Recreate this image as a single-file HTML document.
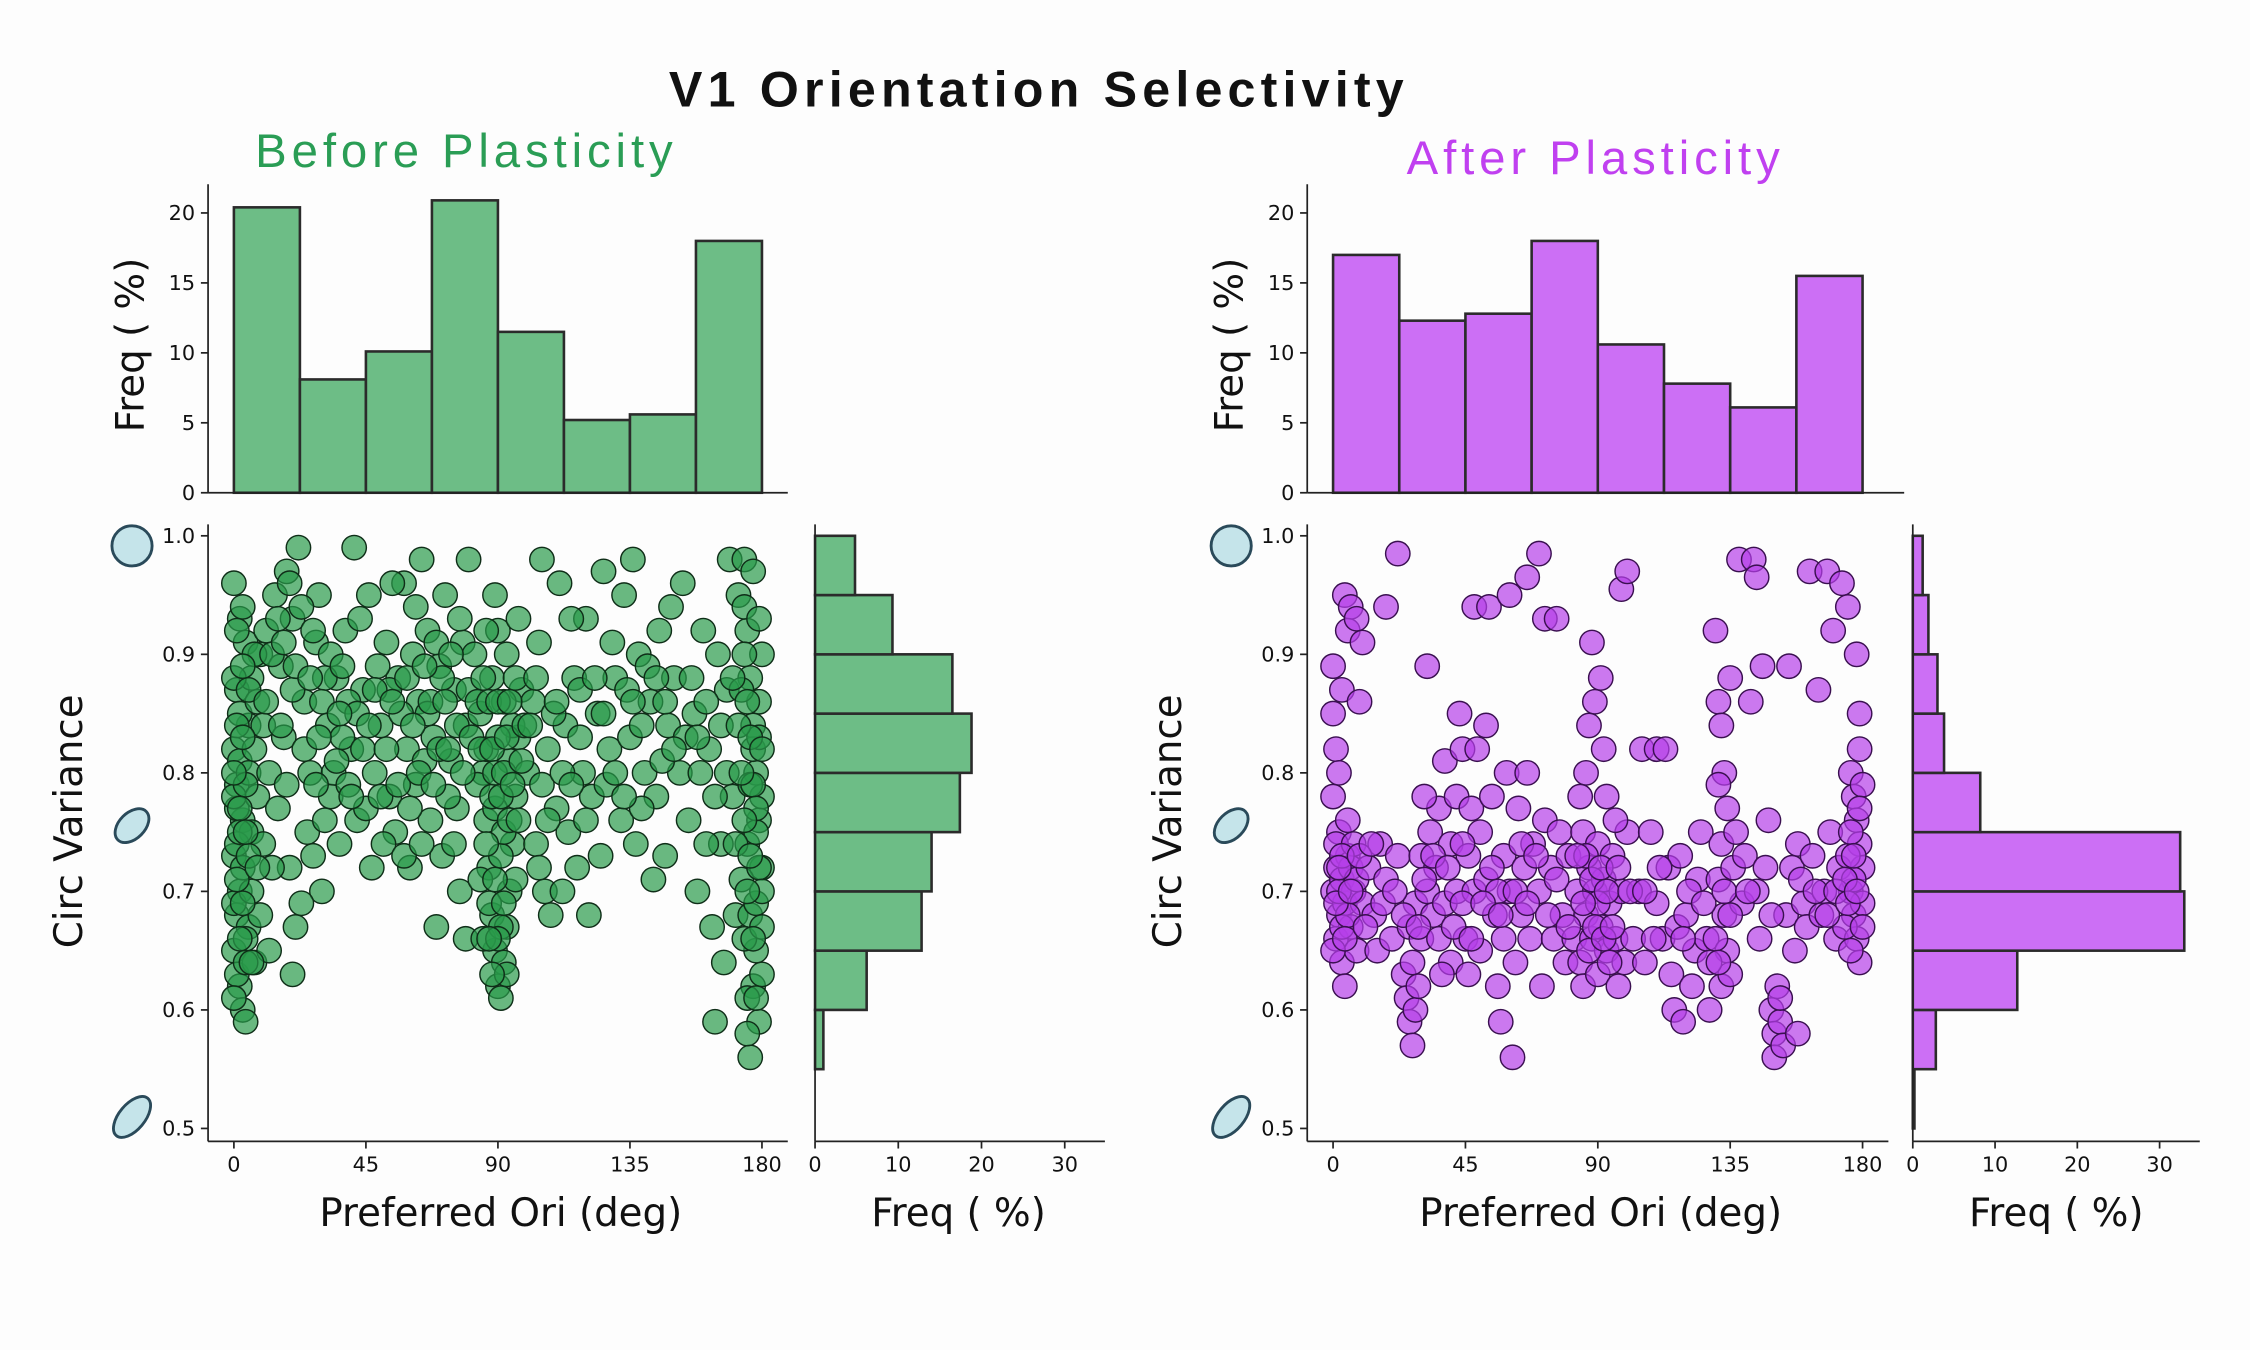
<!DOCTYPE html>
<html><head><meta charset="utf-8"><style>
html,body{margin:0;padding:0;background:#fdfdfd;}
svg{display:block;font-family:"DejaVu Sans","Liberation Sans",sans-serif;}
</style></head><body>
<svg id="fig" width="2250" height="1350" viewBox="0 0 1568 940" xmlns="http://www.w3.org/2000/svg">
<rect width="1568" height="940" fill="#fdfdfd"/>
<text x="724" y="74" text-anchor="middle" font-family="Liberation Sans, sans-serif" font-size="35" font-weight="bold" letter-spacing="3.6" fill="#111">V1 Orientation Selectivity</text>
<text x="325" y="116" text-anchor="middle" font-family="Liberation Sans, sans-serif" font-size="33" letter-spacing="3.4" fill="#2a9d55">Before Plasticity</text>
<text x="1112" y="121" text-anchor="middle" font-family="Liberation Sans, sans-serif" font-size="33" letter-spacing="3.4" fill="#c040f0">After Plasticity</text>
<g id="layer"></g>
</svg>
<script>
const oriBins=[0,22.5,45,67.5,90,112.5,135,157.5,180];
const beforeOriFreq=[20.4,8.1,10.1,20.9,11.5,5.2,5.6,18.0];
const afterOriFreq=[17.0,12.3,12.8,18.0,10.6,7.8,6.1,15.5];
const cvBins=[0.5,0.55,0.6,0.65,0.7,0.75,0.8,0.85,0.9,0.95,1.0];
const beforeCvFreq=[0,1.0,6.2,12.8,14.0,17.4,18.8,16.5,9.3,4.8];
const afterCvFreq=[0.2,2.8,12.7,33.0,32.5,8.2,3.8,3.0,1.9,1.2];
const histTicks=[0,5,10,15,20];
const oriTicks=[0,45,90,135,180];
const cvTicks=[0.5,0.6,0.7,0.8,0.9,1.0];
const margTicks=[0,10,20,30];
const beforePts=[[0,0.96],[1,0.87],[2,0.93],[0,0.82],[1,0.79],[3,0.76],[0,0.73],[2,0.70],[1,0.68],[0,0.65],[2,0.62],[3,0.60],[4,0.59],[1,0.77],[5,0.84],[4,0.91],[6,0.88],[2,0.85],[0,0.78],[3,0.72],[5,0.67],[1,0.63],[4,0.66],[6,0.75],[2,0.81],[0,0.69],[3,0.94],[5,0.80],[6,0.70],[1,0.74],[7,0.64],[8,0.86],[9,0.90],[8,0.78],[10,0.74],[7,0.82],[9,0.68],[11,0.92],[12,0.65],[10,0.84],
[14,0.95],[16,0.89],[18,0.97],[20,0.93],[22,0.99],[17,0.83],[15,0.77],[19,0.72],[21,0.67],[20,0.63],[24,0.86],[25,0.75],[26,0.80],[28,0.91],[30,0.70],[29,0.95],[32,0.84],[33,0.78],[35,0.88],[36,0.74],[38,0.92],[40,0.82],[42,0.76],[41,0.99],[44,0.87],[46,0.95],[47,0.72],[48,0.80],[50,0.84],[52,0.91],[53,0.78],[55,0.75],[56,0.88],[58,0.96],[59,0.82],[60,0.72],[62,0.79],[63,0.86],[64,0.98],[66,0.92],[67,0.76],[68,0.83],[70,0.89],[71,0.73],[72,0.95],[74,0.81],[75,0.87],[76,0.77],[78,0.91],[79,0.84],[80,0.98],[23,0.69],[27,0.73],[34,0.80],[39,0.86],[45,0.77],[51,0.74],[57,0.85],[61,0.90],[65,0.81],[69,0.67],[73,0.78],[77,0.70],[31,0.88],[43,0.93],[49,0.89],[54,0.96],[12,0.80],[13,0.72],[37,0.83],[58,0.73],[66,0.85],[71,0.88],[20,0.87],[28,0.79],[44,0.82],[53,0.87],[62,0.94],[75,0.74],[79,0.66],
[82,0.90],[84,0.85],[85,0.80],[86,0.76],[87,0.72],[88,0.68],[89,0.65],[90,0.62],[91,0.61],[92,0.64],[93,0.67],[94,0.70],[95,0.74],[96,0.78],[97,0.83],[98,0.87],[90,0.92],[88,0.88],[92,0.86],[86,0.82],[94,0.81],[89,0.77],[91,0.73],[87,0.69],[93,0.63],[85,0.66],[95,0.84],[83,0.79],[96,0.71],[90,0.83],[88,0.78],[92,0.75],[84,0.71],[89,0.95],[93,0.90],[97,0.93],
[100,0.80],[102,0.86],[103,0.74],[104,0.91],[106,0.70],[107,0.82],[108,0.68],[110,0.77],[111,0.96],[113,0.84],[114,0.75],[116,0.88],[117,0.72],[119,0.80],[120,0.93],[122,0.78],[124,0.85],[125,0.73],[126,0.97],[128,0.82],[130,0.88],[132,0.76],[133,0.95],[135,0.83],[137,0.74],[138,0.90],[140,0.80],[142,0.86],[144,0.78],[145,0.92],[147,0.73],[148,0.84],[150,0.88],[152,0.80],[153,0.96],[155,0.76],[157,0.85],[158,0.70],[160,0.92],[162,0.82],[163,0.67],[164,0.59],[165,0.90],[166,0.74],[167,0.64],[168,0.87],[169,0.98],[170,0.78],[171,0.68],[172,0.95],[105,0.98],[109,0.85],[115,0.93],[121,0.68],[127,0.79],[134,0.87],[139,0.77],[143,0.71],[149,0.94],[154,0.83],[159,0.80],[161,0.74],[104,0.72],[112,0.70],[118,0.87],[129,0.91],[136,0.98],[146,0.81],
[174,0.98],[175,0.92],[176,0.88],[177,0.84],[178,0.80],[179,0.76],[180,0.72],[176,0.68],[178,0.65],[177,0.62],[179,0.59],[176,0.56],[175,0.58],[180,0.63],[174,0.66],[178,0.69],[180,0.78],[175,0.74],[177,0.82],[179,0.86],[180,0.90],[174,0.94],[176,0.79],[178,0.75],[173,0.71],[180,0.67],[177,0.97],[175,0.61],[179,0.83],[173,0.87],
[0,0.88],[1,0.84],[2,0.77],[3,0.69],[4,0.64],[0,0.61],[1,0.71],[2,0.66],[3,0.83],[4,0.79],[5,0.73],[6,0.64],[7,0.90],[8,0.72],[3,0.89],[1,0.92],[5,0.87],[2,0.75],[0,0.80],[4,0.75],
[11,0.86],[13,0.90],[15,0.93],[17,0.91],[19,0.96],[21,0.89],[23,0.94],[24,0.82],[26,0.88],[27,0.92],[30,0.86],[31,0.76],[33,0.90],[35,0.81],[37,0.89],[39,0.79],[42,0.85],[46,0.84],[48,0.87],[50,0.78],[52,0.82],[54,0.86],[56,0.79],[59,0.88],[61,0.84],[63,0.80],[65,0.89],[67,0.86],[69,0.91],[70,0.82],[72,0.86],[74,0.90],[76,0.84],[78,0.80],[80,0.87],[81,0.83],[60,0.77],[64,0.74],[68,0.79],[73,0.82],[77,0.93],[40,0.78],[36,0.85],[29,0.83],[18,0.79],[16,0.84],
[83,0.86],[84,0.82],[85,0.88],[86,0.92],[87,0.86],[88,0.82],[89,0.80],[90,0.86],[91,0.78],[92,0.80],[93,0.83],[94,0.86],[95,0.79],[96,0.88],[98,0.81],[89,0.71],[91,0.67],[88,0.63],[90,0.66],[92,0.69],[94,0.76],[86,0.74],[97,0.76],[99,0.84],[87,0.66],
[101,0.84],[103,0.88],[105,0.79],[107,0.76],[110,0.86],[112,0.80],[115,0.79],[118,0.83],[120,0.76],[123,0.88],[126,0.85],[130,0.80],[133,0.78],[136,0.86],[139,0.84],[141,0.89],[144,0.88],[147,0.86],[150,0.82],[156,0.88],[158,0.83],[161,0.86],[164,0.78],[166,0.84],[168,0.80],[170,0.88],[171,0.74],[172,0.84],
[174,0.90],[175,0.86],[176,0.83],[177,0.79],[178,0.77],[179,0.72],[180,0.70],[176,0.73],[177,0.66],[178,0.61],[175,0.70],[174,0.76],[180,0.82],[179,0.93],[173,0.80]];
const afterPts=[[0,0.89],[0,0.85],[1,0.82],[0,0.78],[2,0.75],[1,0.72],[0,0.70],[2,0.68],[1,0.66],[3,0.64],[4,0.62],[3,0.71],[5,0.73],[4,0.69],[6,0.67],[2,0.80],[5,0.76],[7,0.70],[8,0.65],[6,0.72],[3,0.87],[4,0.95],[6,0.94],[5,0.92],[8,0.93],[10,0.91],[9,0.86],[1,0.74],[7,0.74],[10,0.69],[3,0.67],[0,0.65],[2,0.70],[5,0.68],[8,0.71],
[12,0.72],[14,0.68],[16,0.74],[18,0.94],[15,0.65],[18,0.71],[20,0.66],[22,0.985],[22,0.73],[24,0.63],[25,0.61],[26,0.59],[27,0.57],[28,0.60],[27,0.64],[28,0.69],[30,0.73],[29,0.62],[26,0.67],[30,0.66],[32,0.89],[32,0.70],[33,0.75],[34,0.68],[35,0.72],[36,0.77],[38,0.81],[38,0.69],[40,0.74],[40,0.64],[42,0.78],[42,0.70],[43,0.85],[44,0.82],[45,0.66],[46,0.63],[46,0.73],[47,0.77],[48,0.94],[48,0.70],[49,0.82],[50,0.75],[50,0.65],[52,0.71],[52,0.84],[53,0.94],[54,0.78],[55,0.68],[56,0.62],[57,0.59],[58,0.66],[58,0.73],[59,0.80],[60,0.95],[60,0.70],[61,0.56],[62,0.64],[63,0.77],[64,0.68],[65,0.72],[66,0.965],[66,0.80],[67,0.66],[68,0.74],[70,0.985],[70,0.70],[71,0.62],[72,0.93],[72,0.76],[74,0.72],[75,0.66],[76,0.93],[77,0.75],[78,0.68],[80,0.73],[79,0.64],[31,0.78],[37,0.63],[44,0.74],[56,0.70],[64,0.74],
[82,0.66],[83,0.70],[84,0.64],[85,0.75],[85,0.62],[86,0.68],[86,0.80],[87,0.72],[87,0.84],[88,0.66],[88,0.91],[89,0.70],[89,0.86],[90,0.74],[90,0.63],[91,0.88],[91,0.67],[92,0.82],[92,0.71],[93,0.65],[93,0.78],[94,0.69],[95,0.73],[96,0.66],[97,0.62],[98,0.955],[98,0.70],[99,0.64],[100,0.97],[100,0.75],[84,0.78],[90,0.69],[94,0.64],[96,0.76],[86,0.73],
[102,0.66],[104,0.70],[105,0.82],[106,0.64],[108,0.75],[110,0.82],[110,0.69],[112,0.66],[113,0.82],[114,0.72],[115,0.63],[116,0.60],[117,0.67],[118,0.73],[120,0.68],[122,0.62],[123,0.65],[124,0.71],[125,0.75],[127,0.66],[128,0.60],[119,0.59],[121,0.70],
[130,0.92],[131,0.86],[132,0.84],[133,0.80],[134,0.77],[132,0.74],[131,0.71],[133,0.68],[134,0.65],[132,0.62],[135,0.88],[136,0.72],[130,0.66],[131,0.79],[135,0.63],[138,0.98],[137,0.75],[139,0.69],
[140,0.73],[142,0.86],[143,0.98],[144,0.965],[144,0.70],[145,0.66],[146,0.89],[147,0.72],[148,0.76],[149,0.60],[150,0.58],[150,0.56],[151,0.62],[152,0.59],[153,0.57],[154,0.68],[155,0.89],[156,0.72],[157,0.65],[158,0.74],[160,0.69],[161,0.67],[162,0.97],[163,0.73],[165,0.87],[166,0.68],[167,0.70],[168,0.97],[169,0.75],[170,0.92],[171,0.66],[172,0.72],[158,0.58],
[173,0.96],[175,0.94],[178,0.90],[179,0.85],[176,0.80],[177,0.78],[178,0.76],[179,0.74],[180,0.72],[176,0.70],[177,0.68],[178,0.66],[179,0.64],[180,0.69],[175,0.73],[174,0.67],[176,0.75],[180,0.79],[177,0.71],[179,0.82],
[1,0.69],[3,0.73],[4,0.66],[2,0.72],[6,0.70],[9,0.73],[11,0.67],[13,0.74],[17,0.69],[21,0.70],[24,0.68],[29,0.67],[31,0.71],[34,0.73],[36,0.66],[39,0.72],[41,0.67],[44,0.69],[47,0.66],[51,0.69],[54,0.72],[57,0.68],[62,0.70],[66,0.69],[69,0.73],[73,0.68],[76,0.71],[80,0.67],[83,0.73],[85,0.69],[87,0.65],[88,0.71],[89,0.67],[91,0.72],[92,0.66],[93,0.70],[95,0.67],[97,0.72],[101,0.70],[106,0.70],[109,0.66],[111,0.72],[119,0.66],[126,0.69],[128,0.64],[131,0.64],[133,0.70],[135,0.68],[141,0.70],[149,0.68],[152,0.61],[159,0.71],[164,0.70],[168,0.68],[171,0.70],[174,0.71],[175,0.69],[177,0.73],[178,0.70],[180,0.67],[176,0.65],[179,0.77]];

const NS='http://www.w3.org/2000/svg';
const layer=document.getElementById('layer');
function mk(tag,attrs,parent){const e=document.createElementNS(NS,tag);for(const k in attrs)e.setAttribute(k,attrs[k]);(parent||layer).appendChild(e);return e;}
function txt(s,attrs,parent){const e=mk('text',attrs,parent);e.textContent=s;return e;}

function panel(o){
  const g=mk('g',{});
  
  
  const ox=d=>o.x0+(d/180)*(o.x180-o.x0);
  const hy=v=>343-(v/20)*(343-148);
  const cy=v=>786-((v-0.5)/0.5)*(786-373);
  const mx=v=>o.m0+(v/30)*(o.m30-o.m0);
  for(let i=0;i<o.oriFreq.length;i++){
    const r=mk('rect',{x:ox(oriBins[i]),y:hy(o.oriFreq[i]),width:ox(oriBins[i+1])-ox(oriBins[i]),height:343-hy(o.oriFreq[i]),fill:o.bar,stroke:'#2b2b2b','stroke-width':1.8},g);
    
    
  }
  mk('line',{x1:o.ax,y1:128,x2:o.ax,y2:343,stroke:'#222','stroke-width':1.2},g);
  mk('line',{x1:o.ax,y1:343,x2:o.topEnd,y2:343,stroke:'#222','stroke-width':1.2},g);
  histTicks.forEach(t=>{mk('line',{x1:o.ax-5,y1:hy(t),x2:o.ax,y2:hy(t),stroke:'#222','stroke-width':1.2},g);
    const tl=txt(String(t),{x:o.ax-9,y:hy(t)+5,'text-anchor':'end','font-size':14.5,fill:'#111'},g);
    
    });
  const hl=txt('Freq ( %)',{x:0,y:0,transform:`translate(${o.ax-45},240) rotate(-90)`,'text-anchor':'middle','font-size':27,fill:'#111'},g);
  
  
  o.pts.forEach(p=>{const c=mk('circle',{cx:ox(p[0]),cy:cy(p[1]),r:8.5,fill:o.dot,'fill-opacity':o.op,stroke:o.edge,'stroke-width':1},g);
    
    });
  mk('line',{x1:o.ax,y1:365,x2:o.ax,y2:795,stroke:'#222','stroke-width':1.2},g);
  mk('line',{x1:o.ax,y1:795,x2:o.scEnd,y2:795,stroke:'#222','stroke-width':1.2},g);
  cvTicks.forEach(t=>{mk('line',{x1:o.ax-5,y1:cy(t),x2:o.ax,y2:cy(t),stroke:'#222','stroke-width':1.2},g);
    const tl=txt(t.toFixed(1),{x:o.ax-9,y:cy(t)+5,'text-anchor':'end','font-size':14.5,fill:'#111'},g);
    
    });
  oriTicks.forEach(t=>{mk('line',{x1:ox(t),y1:795,x2:ox(t),y2:800,stroke:'#222','stroke-width':1.2},g);
    const tl=txt(String(t),{x:ox(t),y:816,'text-anchor':'middle','font-size':14.5,fill:'#111'},g);
    
    });
  const xl=txt('Preferred Ori (deg)',{x:(o.x0+o.x180)/2+2,y:854,'text-anchor':'middle','font-size':27,fill:'#111'},g);
  
  
  const yl=txt('Circ Variance',{x:0,y:0,transform:`translate(${o.ax-88},572) rotate(-90)`,'text-anchor':'middle','font-size':27,fill:'#111'},g);
  
  
  for(let i=0;i<o.cvFreq.length;i++){
    const r=mk('rect',{x:o.m0,y:cy(cvBins[i+1]),width:mx(o.cvFreq[i])-o.m0,height:cy(cvBins[i])-cy(cvBins[i+1]),fill:o.bar,stroke:'#2b2b2b','stroke-width':1.8},g);
    
    
  }
  mk('line',{x1:o.m0,y1:365,x2:o.m0,y2:795,stroke:'#222','stroke-width':1.2},g);
  mk('line',{x1:o.m0,y1:795,x2:o.mEnd,y2:795,stroke:'#222','stroke-width':1.2},g);
  margTicks.forEach(t=>{mk('line',{x1:mx(t),y1:795,x2:mx(t),y2:800,stroke:'#222','stroke-width':1.2},g);
    const tl=txt(String(t),{x:mx(t),y:816,'text-anchor':'middle','font-size':14.5,fill:'#111'},g);
    
    });
  const ml=txt('Freq ( %)',{x:o.m0+100,y:854,'text-anchor':'middle','font-size':27,fill:'#111'},g);
  
  
  const ex=o.ax-53;
  const e1=mk('ellipse',{cx:ex,cy:380,rx:14,ry:14,fill:'#c5e4ea',stroke:'#2a4a5a','stroke-width':2},g);
  
  
  const e2=mk('ellipse',{cx:ex,cy:575,rx:14,ry:9,transform:`rotate(-45 ${ex} 575)`,fill:'#c5e4ea',stroke:'#2a4a5a','stroke-width':2},g);
  
  
  const e3=mk('ellipse',{cx:ex,cy:778,rx:17,ry:9,transform:`rotate(-50 ${ex} 778)`,fill:'#c5e4ea',stroke:'#2a4a5a','stroke-width':2},g);
  
  
}
panel({name:'before',ax:145,x0:163,x180:531,topEnd:549,scEnd:549,m0:568,m30:742,mEnd:770,oriFreq:beforeOriFreq,cvFreq:beforeCvFreq,pts:beforePts,bar:'#6dbd86',dot:'#2a9a4a',edge:'#0f2e18',op:0.7});
panel({name:'after',ax:911,x0:929,x180:1298,topEnd:1327,scEnd:1316,m0:1333,m30:1505,mEnd:1533,oriFreq:afterOriFreq,cvFreq:afterCvFreq,pts:afterPts,bar:'#cc6ff5',dot:'#b53ee8',edge:'#3a1050',op:0.7});
</script>
</body></html>
